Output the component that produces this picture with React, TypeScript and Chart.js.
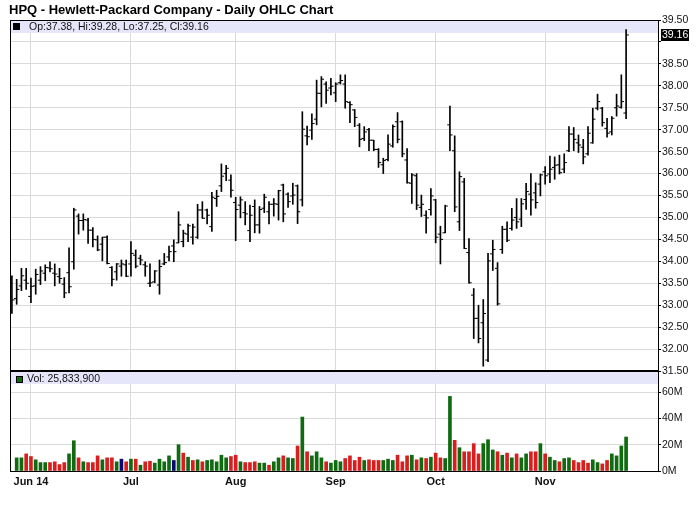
import { useEffect, useRef } from 'react';
import { Chart, registerables } from 'chart.js';

Chart.register(...registerables);

const FONT = '"Liberation Sans", Arial, Helvetica, sans-serif';

const title = 'HPQ - Hewlett-Packard Company - Daily OHLC Chart';

const opens = [33.51,33.15,33.44,33.57,33.20,33.44,33.57,33.73,33.85,33.73, 33.65,33.48,33.74,33.99,35.03,34.93,34.94,34.71,34.49,34.39, 34.55,33.86,33.76,33.89,33.92,33.94,34.14,34.07,33.92,33.50, 33.53,33.46,33.94,34.10,34.35,34.42,34.45,34.62,34.55,34.55, 35.17,35.17,34.79,35.43,35.72,36.00,35.85,35.34,35.28,35.11, 34.70,35.25,34.83,35.21,35.13,35.30,35.30,35.74,35.53,35.49, 35.72,35.40,36.86,36.99,37.24,37.83,38.04,37.95,37.84,38.07, 38.04,37.62,37.45,37.10,36.80,37.00,36.76,36.55,36.20,36.32, 36.63,37.18,37.18,36.31,35.78,35.95,35.23,35.05,35.18,35.40, 34.62,34.65,37.11,36.52,34.90,35.81,34.20,33.23,32.70,32.60, 31.75,34.17,33.84,34.27,34.73,34.75,35.00,34.96,35.41,35.53, 35.56,35.76,36.04,35.99,36.14,36.20,36.10,36.52,36.90,36.70, 36.60,36.45,36.70,37.49,37.49,37.03,36.95,37.50,37.51,37.38];

const highs = [33.67,33.59,33.84,33.84,33.62,33.82,33.88,33.92,33.99,33.94, 33.84,33.63,34.31,35.21,35.08,35.08,34.98,34.77,34.58,34.55, 34.58,33.88,33.95,34.03,34.03,34.45,34.26,34.14,33.99,33.94, 33.79,34.03,34.18,34.35,34.49,35.13,34.71,34.85,34.85,35.30, 35.36,35.19,35.57,35.62,36.22,36.19,35.97,35.46,35.47,35.36, 35.28,35.40,35.25,35.53,35.36,35.43,35.62,35.76,35.56,35.78, 35.74,37.41,37.08,37.36,38.13,38.21,38.09,38.17,38.07,38.25, 38.25,37.64,37.46,37.14,37.07,37.03,36.76,36.57,36.35,36.88, 37.11,37.39,37.20,36.57,36.00,36.00,35.51,35.15,35.66,35.41, 34.80,35.28,37.54,36.86,36.04,35.89,34.52,33.38,33.00,33.13, 34.18,34.48,33.97,34.80,34.90,35.21,35.43,35.43,35.78,36.00, 35.79,35.99,36.16,36.40,36.38,36.42,36.45,37.07,37.05,36.88, 36.78,37.07,37.49,37.81,37.51,37.26,37.30,37.81,38.25,39.28];

const lows = [32.81,33.02,33.33,33.36,33.06,33.25,33.47,33.56,33.76,33.44, 33.50,33.17,33.28,33.82,34.62,34.71,34.41,34.33,34.24,34.01, 33.94,33.44,33.57,33.66,33.65,33.66,33.85,33.92,33.66,33.42, 33.51,33.25,33.92,34.01,33.99,34.42,34.33,34.45,34.39,34.52, 34.98,34.85,34.68,35.25,35.59,35.84,35.46,34.47,34.99,34.83, 34.45,34.65,34.64,35.11,34.85,35.03,34.94,34.90,35.23,35.30, 34.86,35.26,36.65,36.78,37.11,37.52,37.60,37.79,37.64,38.04, 37.49,37.16,37.07,36.61,36.75,36.52,36.52,36.14,36.00,36.29, 36.60,36.70,36.38,35.78,35.32,35.18,35.02,34.64,35.05,34.42, 33.94,34.65,36.52,35.13,34.70,34.29,33.50,32.24,32.14,31.61, 31.71,33.79,33.00,34.18,34.45,34.71,34.75,34.79,35.18,35.05, 35.21,35.49,35.76,35.79,35.87,35.99,36.02,36.50,36.52,36.48, 36.22,36.42,36.69,37.45,37.08,36.83,36.88,37.31,37.49,37.25];

const closes = [33.12,33.36,33.67,33.50,33.43,33.70,33.78,33.86,33.83,33.71, 33.61,33.28,33.42,35.17,34.93,34.95,34.71,34.50,34.26,34.55, 33.95,33.59,33.94,33.94,33.66,34.18,33.89,34.03,33.89,33.51, 33.78,33.88,33.97,34.22,34.22,34.83,34.64,34.81,34.78,35.17, 34.98,35.05,35.46,35.48,35.94,36.12,35.62,35.18,35.40,35.08, 35.05,34.83,35.18,35.46,35.30,35.31,35.61,35.08,35.36,35.51, 35.13,37.01,36.84,37.14,37.83,38.15,37.90,37.99,38.04,38.12, 37.64,37.57,37.28,36.78,36.95,36.76,36.55,36.25,36.30,36.67, 37.07,36.78,36.45,35.79,35.97,35.28,35.30,34.99,35.49,34.55, 34.50,35.26,36.88,35.24,35.93,34.29,33.51,32.70,32.24,32.81, 34.01,34.27,33.03,34.73,34.48,34.94,34.90,35.31,35.59,35.40, 35.34,35.97,35.95,36.10,36.19,36.02,36.25,36.90,36.78,36.65, 36.38,36.92,37.24,37.64,37.16,36.92,37.26,37.54,37.64,39.16];

// volume in millions of shares
const volumesM = [null,10,10,13,11,8.5,6.4,6.4,6.4,7, 4.9,6.4,13,23,10,7,6.4,6.4,11.5,8.5, 10,10,7,9,7,9,9,4.4,7,7.4, 6,9,7,11.5,8,20,13.6,10.5,8,8.5, 7,8,8.5,7,12,10,11,12,7,6.4, 6.4,7,6,6,4.4,7,10,11.5,10,9.5, 19,41,14.6,11.5,14.6,10,7,6,8,7, 9.5,11.5,8,10.5,8,8.5,8,8,8,9, 8,12,7,11.5,12,8.5,10,9.5,10.5,13.6, 10,9.5,56.7,23.3,17.7,14.6,14.6,20.8,13,20.8, 23.8,16,14.6,12,13.6,10,13,10,13,14.6, 14.6,20.8,13,10.5,8,7,9.5,10,8,6.4, 8,6,8.5,6.4,5.4,8,13,11.5,19,25.8339];

// u = close up, d = close down, n = unchanged
const volTrend = ['u','u','u','d','d','u','u','u','d','d', 'd','d','u','u','d','u','d','d','d','u', 'd','d','u','n','d','u','d','u','d','d', 'u','u','u','u','n','u','d','u','d','u', 'd','u','u','u','u','u','d','d','u','d', 'd','d','u','u','d','u','u','d','u','u', 'd','u','d','u','u','u','d','u','u','u', 'd','d','d','d','u','d','d','d','u','u', 'u','d','d','d','u','d','u','d','u','d', 'd','u','u','d','u','d','d','d','d','u', 'u','u','d','u','d','u','d','u','u','d', 'd','u','d','u','u','d','u','u','d','d', 'd','d','u','u','d','d','u','u','u','u'];

const lastVolume = '25,833,900';

// trading-day index of the first session of each month, and its label
const monthStarts = [4, 25, 47, 68, 89, 112];
const monthLabels = ['Jun 14', 'Jul', 'Aug', 'Sep', 'Oct', 'Nov'];

const priceTicks = [31.5, 32, 32.5, 33, 33.5, 34, 34.5, 35, 35.5, 36, 36.5, 37, 37.5, 38, 38.5, 39, 39.5];
const volumeTicksM = [0, 20, 40, 60];
const volumeMaxM = 76;

const trendColor: Record<string, string> = { u: '#0f6a10', d: '#d81f1f', n: '#0a0a6e' };

export default function App() {
  const ref = useRef<HTMLCanvasElement>(null);

  useEffect(() => {
    const canvas = ref.current;
    if (!canvas) return;
    const n = closes.length;
    const idx = closes.map((_, i) => i);
    const last = n - 1;
    const lastClose = closes[last];

    const decor = {
      id: 'ohlcDecor',
      beforeDatasetsDraw(chart: any) {
        const { ctx, chartArea: a } = chart;
        const yv = chart.scales.yv;
        ctx.save();
        ctx.fillStyle = '#e6e6fa';
        ctx.fillRect(a.left, a.top + 1, a.right - a.left, 12);
        ctx.fillRect(a.left, yv.top + 1, a.right - a.left, 12);
        ctx.restore();
      },
      afterDraw(chart: any) {
        const { ctx, chartArea: a } = chart;
        const y = chart.scales.y;
        const yv = chart.scales.yv;
        ctx.save();
        ctx.fillStyle = '#000';
        ctx.fillRect(a.left, a.top, a.right - a.left, 1);
        ctx.fillRect(a.left, a.top, 1, a.bottom - a.top);
        ctx.fillRect(a.left, yv.top - 1, a.right - a.left + 1, 2);

        ctx.font = `bold 13px ${FONT}`;
        ctx.textBaseline = 'alphabetic';
        ctx.textAlign = 'left';
        ctx.fillText(title, 9, 14);

        // price legend
        ctx.fillStyle = '#000';
        ctx.fillRect(a.left + 3, a.top + 3, 7, 7);
        ctx.font = `10.5px ${FONT}`;
        ctx.textBaseline = 'middle';
        ctx.fillStyle = '#111';
        const t = `Op:${opens[last].toFixed(2)}, Hi:${highs[last].toFixed(2)}, Lo:${lows[last].toFixed(2)}, Cl:${closes[last].toFixed(2)}`;
        ctx.fillText(t, a.left + 19, a.top + 7.5);

        // volume legend
        ctx.fillStyle = trendColor[volTrend[last]];
        ctx.fillRect(a.left + 6, yv.top + 5, 7, 7);
        ctx.strokeStyle = '#000';
        ctx.lineWidth = 1;
        ctx.strokeRect(a.left + 6.5, yv.top + 5.5, 6, 6);
        ctx.fillStyle = '#111';
        ctx.fillText(`Vol: ${lastVolume}`, a.left + 17, yv.top + 8.5);

        // last close marker on the axis
        const py = Math.round(y.getPixelForValue(lastClose));
        ctx.fillStyle = '#000';
        ctx.fillRect(a.right + 3, py - 6, 28, 12);
        ctx.fillStyle = '#fff';
        ctx.fillText(lastClose.toFixed(2), a.right + 4, py + 0.5);
        ctx.restore();
      },
    };

    const chart = new Chart(canvas, {
      type: 'bar',
      data: {
        datasets: [
          {
            type: 'bar',
            label: 'range',
            data: idx.map((i) => ({ x: i, y: [lows[i], highs[i]] })) as any,
            backgroundColor: '#000',
            borderWidth: 0,
            barThickness: 1,
            grouped: false,
            xAxisID: 'x',
            yAxisID: 'y',
            order: 1,
          },
          {
            type: 'scatter',
            label: 'open',
            data: idx.map((i) => ({ x: i - 0.28, y: opens[i] })),
            pointStyle: 'line',
            pointRadius: 1.35,
            borderColor: '#000',
            borderWidth: 1,
            showLine: false,
            xAxisID: 'x',
            yAxisID: 'y',
            order: 0,
          },
          {
            type: 'scatter',
            label: 'close',
            data: idx.map((i) => ({ x: i + 0.28, y: closes[i] })),
            pointStyle: 'line',
            pointRadius: 1.35,
            borderColor: '#000',
            borderWidth: 1,
            showLine: false,
            xAxisID: 'x',
            yAxisID: 'y',
            order: 0,
          },
          {
            type: 'bar',
            label: 'volume',
            data: idx.map((i) => ({ x: i, y: volumesM[i] })) as any,
            backgroundColor: idx.map((i) => trendColor[volTrend[i]]),
            borderWidth: 0,
            barThickness: 3,
            grouped: false,
            xAxisID: 'x',
            yAxisID: 'yv',
            order: 2,
          },
        ] as any,
      },
      options: {
        responsive: false,
        animation: false,
        devicePixelRatio: 1,
        events: [],
        layout: { padding: { left: 10, top: 20, right: 0, bottom: 0 } },
        plugins: {
          legend: { display: false },
          tooltip: { enabled: false },
          title: { display: false },
        },
        scales: {
          x: {
            type: 'linear',
            min: -0.4,
            max: 135.7,
            offset: false,
            position: 'bottom',
            grid: { color: '#dadada', drawTicks: false, offset: false },
            border: { display: true, color: '#000', width: 1 },
            afterBuildTicks: (s: any) => {
              s.ticks = monthStarts.map((v) => ({ value: v }));
            },
            afterFit: (s: any) => {
              s.height = 41;
            },
            ticks: {
              autoSkip: false,
              maxRotation: 0,
              padding: 4,
              color: '#111',
              font: { family: FONT, size: 11, weight: 'bold' },
              callback: (_v: any, i: number) => monthLabels[i],
            },
          },
          y: {
            type: 'linear',
            position: 'right',
            stack: 'panels',
            stackWeight: 351,
            min: priceTicks[0],
            max: priceTicks[priceTicks.length - 1],
            grid: { color: '#dadada', tickColor: '#000', tickLength: 3 },
            border: { display: true, color: '#000', width: 1 },
            afterBuildTicks: (s: any) => {
              s.ticks = priceTicks.map((v) => ({ value: v }));
            },
            afterFit: (s: any) => {
              s.width = 42;
            },
            ticks: {
              autoSkip: false,
              padding: 1,
              color: '#111',
              font: { family: FONT, size: 10.5 },
              callback: (v: any) => (Math.abs(Number(v) - lastClose) < 0.25 ? '' : Number(v).toFixed(2)),
            },
          },
          yv: {
            type: 'linear',
            position: 'right',
            stack: 'panels',
            stackWeight: 100,
            min: 0,
            max: volumeMaxM,
            grid: { color: '#dadada', tickColor: '#000', tickLength: 3 },
            border: { display: true, color: '#000', width: 1 },
            afterBuildTicks: (s: any) => {
              s.ticks = volumeTicksM.map((v) => ({ value: v }));
            },
            afterFit: (s: any) => {
              s.width = 42;
            },
            ticks: {
              autoSkip: false,
              padding: 1,
              color: '#111',
              font: { family: FONT, size: 10.5 },
              callback: (v: any) => `${v}M`,
            },
          },
        },
      } as any,
      plugins: [decor],
    });

    return () => chart.destroy();
  }, []);

  return (
    <div style={{ position: 'fixed', left: 0, top: 0, width: 700, height: 512, background: '#fff' }}>
      <canvas ref={ref} width={700} height={512} style={{ display: 'block', width: 700, height: 512 }} />
    </div>
  );
}
